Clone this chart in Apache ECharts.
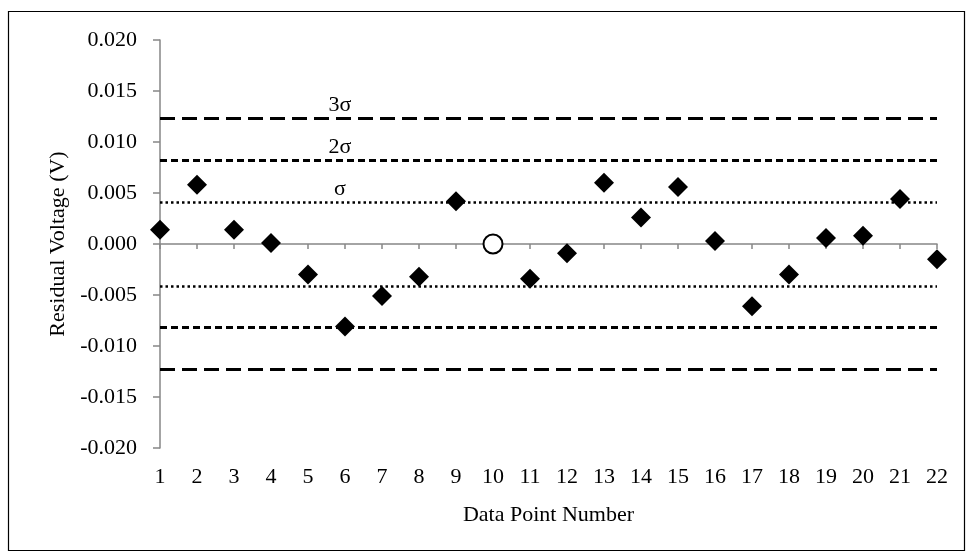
<!DOCTYPE html>
<html>
<head>
<meta charset="utf-8">
<title>Residual Voltage</title>
<script src="https://cdn.jsdelivr.net/npm/echarts@6/dist/echarts.min.js"></script>
<style>
  html, body { margin: 0; padding: 0; background: #fff; }
  #chart { width: 966px; height: 552px; }
</style>
</head>
<body>
<div id="chart"></div>
<script>
// data point numbers and residuals (V)
const pointNumbers = [1, 2, 3, 4, 5, 6, 7, 8, 9, 10, 11, 12, 13, 14, 15, 16, 17, 18, 19, 20, 21, 22]
const residuals = [0.0014, 0.0058, 0.0014, 0.0001, -0.0030, -0.0081, -0.0051, -0.0032, 0.0042, 0.0000, -0.0034,
  -0.0009, 0.0060, 0.0026, 0.0056, 0.0003, -0.0061, -0.0030, 0.0006, 0.0008, 0.0044, -0.0015]
// point shown as open circle (excluded)
const excludedPoints = [10]
// sigma levels
const sigmaNames = ['σ', '2σ', '3σ']
const sigmaValues = [0.0041, 0.0082, 0.0123]
const sigmaLabelAt = 5.86
// y ticks
const yMin = -0.020
const yMax = 0.020
const yStep = 0.005

const font = "'Liberation Serif', 'Times New Roman', serif"
const axisGray = '#868686'

const diamonds = []
const circles = []
pointNumbers.forEach((n, i) => {
  if (excludedPoints.indexOf(n) >= 0) {
    circles.push([n, residuals[i]])
  } else {
    diamonds.push([n, residuals[i]])
  }
})

// line styles for σ, 2σ, 3σ
const sigmaStyles = [
  { type: [2.5, 3], width: 2.5 },
  { type: [7, 4], width: 3 },
  { type: [15, 7], width: 3 }
]

const chart = echarts.init(document.getElementById('chart'))
chart.setOption({
  backgroundColor: '#fff',
  animation: false,
  textStyle: { fontFamily: font },
  graphic: [{
    type: 'rect',
    shape: { x: 8.5, y: 11.5, width: 956, height: 539 },
    style: { fill: 'none', stroke: '#000', lineWidth: 1.2 },
    silent: true
  }],
  grid: { left: 160, right: 29, top: 40, bottom: 104 },
  xAxis: [{
    // axis line on zero with ticks
    type: 'value',
    min: 1,
    max: 22,
    interval: 1,
    position: 'bottom',
    axisLine: { onZero: true, lineStyle: { color: axisGray, width: 1.5 } },
    axisTick: { show: true, length: 5, lineStyle: { color: axisGray, width: 1.5 } },
    axisLabel: { show: false },
    splitLine: { show: false }
  }, {
    // labels at the bottom
    type: 'value',
    min: 1,
    max: 22,
    interval: 1,
    position: 'bottom',
    axisLine: { show: false, onZero: false },
    axisTick: { show: false },
    axisLabel: { color: '#000', fontSize: 22, fontFamily: font, margin: 18 },
    splitLine: { show: false },
    name: 'Data Point Number',
    nameLocation: 'middle',
    nameGap: 56,
    nameTextStyle: { color: '#000', fontSize: 22, fontFamily: font }
  }],
  yAxis: {
    type: 'value',
    min: yMin,
    max: yMax,
    interval: yStep,
    axisLine: { show: true, lineStyle: { color: axisGray, width: 1.5 } },
    axisTick: { show: true, length: 7, lineStyle: { color: axisGray, width: 1.5 } },
    axisLabel: {
      color: '#000',
      fontSize: 22,
      fontFamily: font,
      margin: 23,
      formatter: v => v.toFixed(3)
    },
    splitLine: { show: false },
    name: 'Residual Voltage (V)',
    nameLocation: 'middle',
    nameRotate: 90,
    nameGap: 90,
    nameTextStyle: { color: '#000', fontSize: 22, fontFamily: font }
  },
  series: [{
    // sigma labels
    type: 'scatter',
    silent: true,
    symbolSize: 0,
    itemStyle: { opacity: 1 },
    data: sigmaValues.map((s, i) => [sigmaLabelAt, s, sigmaNames[i]]),
    label: {
      show: true,
      position: 'top',
      distance: 2,
      color: '#000',
      fontSize: 22,
      fontFamily: font,
      formatter: p => p.value[2]
    }
  }, {
    type: 'scatter',
    symbol: 'diamond',
    symbolSize: 20,
    itemStyle: { color: '#000', opacity: 1 },
    data: diamonds,
    z: 5,
    // sigma lines
    markLine: {
      silent: true,
      symbol: 'none',
      precision: 5,
      label: { show: false },
      data: sigmaValues.flatMap((s, i) => [
        { yAxis: s, lineStyle: { color: '#000', type: sigmaStyles[i].type, width: sigmaStyles[i].width } },
        { yAxis: -s, lineStyle: { color: '#000', type: sigmaStyles[i].type, width: sigmaStyles[i].width } }
      ])
    }
  }, {
    type: 'scatter',
    symbol: 'circle',
    symbolSize: 19,
    itemStyle: { color: '#fff', borderColor: '#000', borderWidth: 2, opacity: 1 },
    data: circles,
    z: 5
  }]
})
</script>
</body>
</html>
